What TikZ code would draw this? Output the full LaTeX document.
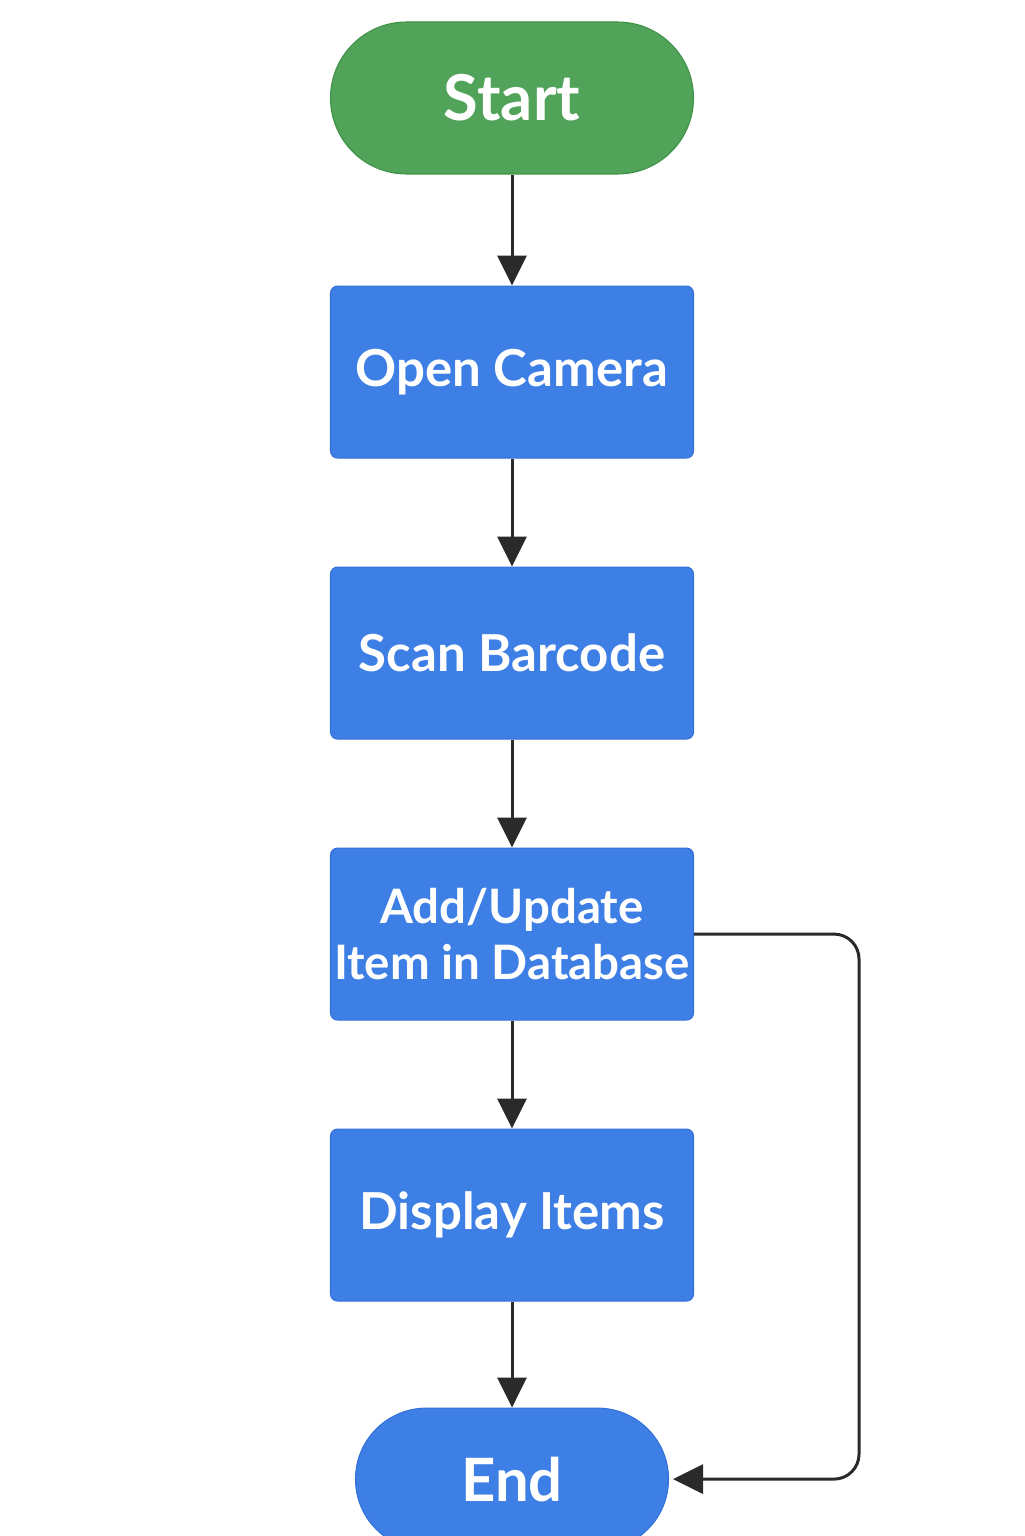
\documentclass[tikz,border=0pt]{standalone}
\usepackage{fontspec}
\setmainfont{Lato}
\usepackage{tikz}
\usetikzlibrary{calc, positioning, arrows.meta}

\definecolor{startgreen}{HTML}{52A35A}
\definecolor{startedge}{HTML}{3F9147}
\definecolor{stepblue}{HTML}{3E7FE6}
\definecolor{stepedge}{HTML}{3370DA}
\definecolor{linegray}{HTML}{2A2A2A}

\begin{document}
\begin{tikzpicture}[node distance=2.18cm,
    stepbox/.style={rectangle, draw=stepedge, fill=stepblue, text=white, line width=0.6pt, minimum width=7.26cm, minimum height=3.44cm, inner sep=0pt, rounded corners=4pt, align=center, font=\fontsize{29}{32}\selectfont\bfseries},
    flow/.style={-{Triangle[width=0.58cm,length=0.6cm]}, line width=1.7pt, linegray}]
        \useasboundingbox (0,0) rectangle (20.48,-30.72);
        % Nodes
        \node (start) [rectangle, draw=startedge, fill=startgreen, text=white, line width=0.6pt, minimum width=7.26cm, minimum height=3.04cm, rounded corners=1.52cm, font=\fontsize{36}{40}\selectfont\bfseries] at (10.24,-1.96) {Start};
        \node (camera) [stepbox, below=2.22cm of start] {Open Camera};
        \node (scan) [stepbox, below of=camera, yshift=-3.44cm] {Scan Barcode};
        \node (update) [stepbox, below of=scan, yshift=-3.44cm, font=\fontsize{27}{32}\selectfont\bfseries] {Add/Update\\Item in Database};
        \node (display) [stepbox, below of=update, yshift=-3.44cm] {Display Items};
        \node (stop) [rectangle, draw=stepedge, fill=stepblue, text=white, line width=0.6pt, minimum width=6.26cm, minimum height=2.84cm, rounded corners=1.42cm, font=\fontsize{34}{40}\selectfont\bfseries, below=2.12cm of display] {End};

        % Arrows
        \draw[flow] (start) -- (camera);
        \draw[flow] (camera) -- (scan);
        \draw[flow] (scan) -- (update);
        \draw[flow] (update) -- (display);
        \draw[flow] (display) -- (stop);

        % Linha de retorno
        \draw[flow, rounded corners=0.5cm] (update.east) -- ++(3.3,0) |- ($(stop.east)+(0.08,0)$);
    \end{tikzpicture}
\end{document}
